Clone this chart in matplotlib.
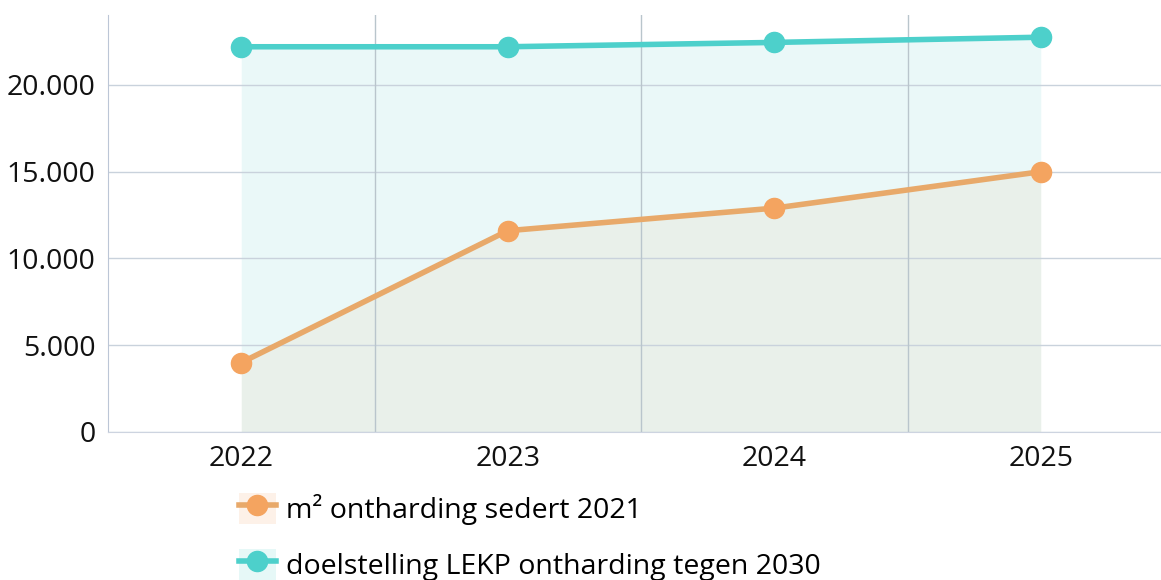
import matplotlib
matplotlib.use("Agg")
import matplotlib.pyplot as plt
from matplotlib.lines import Line2D
from matplotlib.patches import Patch
from matplotlib.ticker import FuncFormatter, MultipleLocator

years = ["2022", "2023", "2024", "2025"]
ontharding = [4000, 11600, 12900, 15000]
doelstelling = [22200, 22200, 22450, 22750]
labels = ["m² ontharding sedert 2021", "doelstelling LEKP ontharding tegen 2030"]

plt.rcParams['font.family'] = ['Open Sans', 'DejaVu Sans']

W, H = 1161, 580
fig = plt.figure(figsize=(W / 100, H / 100), dpi=100)
ax = fig.add_axes([108 / W, (H - 432) / H, (1174 - 108) / W, (432 - 15) / H])

x = list(range(len(years)))
orange_line = "#E8A96A"
orange_mark = "#F4A460"
teal = "#4DD0CB"

ax.fill_between(x, ontharding, doelstelling, color="#EAF8F8", lw=0, zorder=1)
ax.fill_between(x, 0, ontharding, color="#E9F0EA", lw=0, zorder=1)
ax.plot(x, doelstelling, color=teal, lw=4, marker="o", ms=14.5, mfc=teal, mec=teal, zorder=4)
ax.plot(x, ontharding, color=orange_line, lw=4, marker="o", ms=14.5, mfc=orange_mark, mec=orange_mark, zorder=4)

ax.set_xlim(-0.5, 3.5)
ax.set_ylim(0, 24030)
ax.yaxis.set_major_locator(MultipleLocator(5000))
ax.yaxis.set_major_formatter(FuncFormatter(lambda v, p: f"{int(v):,}".replace(",", ".")))
ax.set_xticks(x)
ax.set_xticklabels(years)
for xv in [0.5, 1.5, 2.5]:
    ax.axvline(xv, color="#B9C5CC", lw=1, zorder=2)
ax.grid(axis="y", color="#C9D2DC", lw=1, zorder=2)
for s in ["top", "right"]:
    ax.spines[s].set_visible(False)
ax.spines["left"].set_color("#BCC6D6")
ax.spines["bottom"].set_color("#CDD4E0")
ax.tick_params(axis="both", length=0, labelsize=20.5, colors="#111111", pad=9)
ax.tick_params(axis="x", pad=9)

h1 = (Patch(facecolor="#FDF1E8", edgecolor="none"),
      Line2D([], [], color=orange_line, lw=4, marker="o", ms=14.5, mfc=orange_mark, mec=orange_mark))
h2 = (Patch(facecolor="#E6F8F7", edgecolor="none"),
      Line2D([], [], color=teal, lw=4, marker="o", ms=14.5, mfc=teal, mec=teal))
fig.legend([h1, h2], labels, loc="upper left", bbox_to_anchor=(230 / W, 1 - 484 / H),
           frameon=False, fontsize=20.5, handlelength=1.3, handleheight=1.3,
           handletextpad=0.35, labelspacing=0.85, borderaxespad=0, borderpad=0.3)

fig.savefig("out.png", dpi=100)
